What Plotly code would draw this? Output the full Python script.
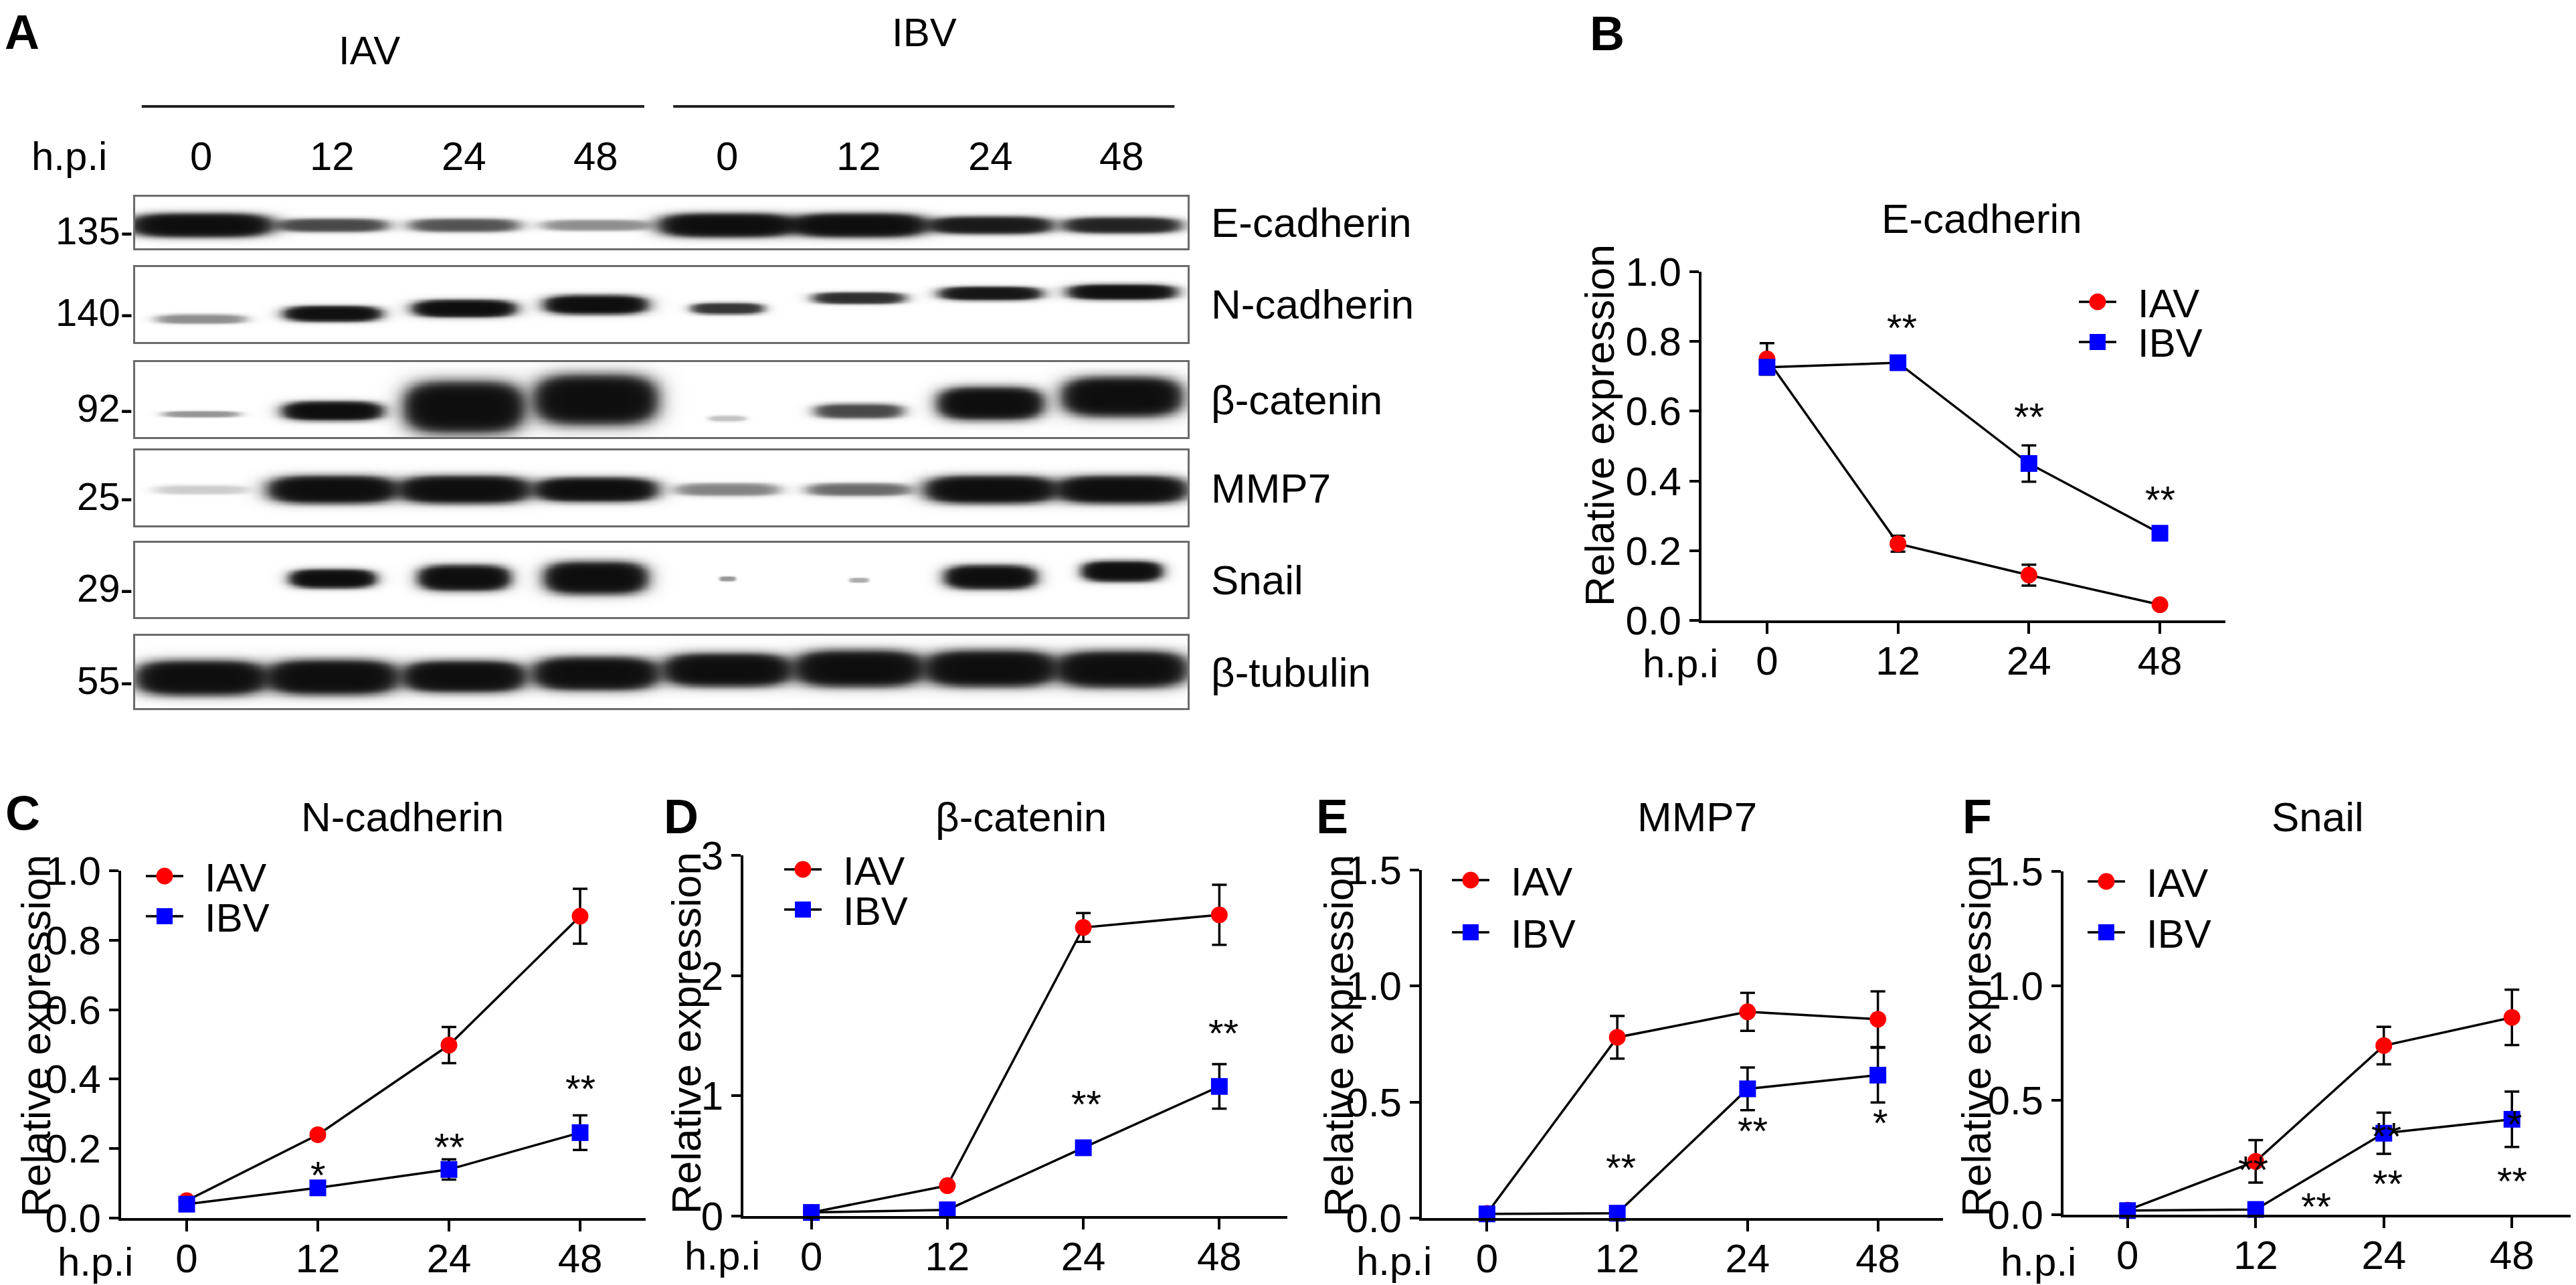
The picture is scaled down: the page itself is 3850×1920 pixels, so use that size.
"""
EMT markers after IAV / IBV infection: western blot (A) plus
densitometry line charts (B-F). Writes out.html.
"""

import numpy as np
import plotly.graph_objects as go

W, H = 3850, 1920
FONT = "Liberation Sans, Arial, Helvetica, sans-serif"

HPI = ["0", "12", "24", "48"]
LANE_LABELS = HPI + HPI
SERIES = ["IAV", "IBV"]

# ---- panel A: band darkness per lane (IAV 0/12/24/48, IBV 0/12/24/48), 0 = none, 1 = saturated
BLOT_PROTEINS = ["E-cadherin", "N-cadherin", "β-catenin", "MMP7", "Snail", "β-tubulin"]
BLOT_MW = ["135-", "140-", "92-", "25-", "29-", "55-"]
ECAD_BAND = [1.0, 0.45, 0.4, 0.22, 1.0, 1.0, 0.8, 0.7]
NCAD_BAND = [0.22, 0.95, 1.0, 1.0, 0.55, 0.6, 0.85, 0.95]
BCAT_BAND = [0.2, 1.0, 1.0, 1.0, 0.1, 0.45, 1.0, 1.0]
MMP7_BAND = [0.08, 1.0, 1.0, 1.0, 0.25, 0.32, 1.0, 1.0]
SNAIL_BAND = [0.0, 1.0, 1.0, 1.0, 0.2, 0.15, 1.0, 1.0]
BTUB_BAND = [1.0, 1.0, 1.0, 1.0, 1.0, 1.0, 1.0, 1.0]

# ---- panels B-F: relative expression (mean, SD)
ECAD_IAV = [0.75, 0.22, 0.13, 0.045]
ECAD_IAV_SD = [0.045, 0.023, 0.03, 0.006]
ECAD_IBV = [0.726, 0.739, 0.45, 0.25]
ECAD_IBV_SD = [0.02, 0.006, 0.052, 0.01]

NCAD_IAV = [0.05, 0.24, 0.498, 0.869]
NCAD_IAV_SD = [0.005, 0.008, 0.052, 0.079]
NCAD_IBV = [0.04, 0.087, 0.14, 0.246]
NCAD_IBV_SD = [0.004, 0.01, 0.029, 0.05]

BCAT_IAV = [0.03, 0.253, 2.40, 2.505]
BCAT_IAV_SD = [0.005, 0.02, 0.12, 0.25]
BCAT_IBV = [0.03, 0.052, 0.568, 1.078]
BCAT_IBV_SD = [0.005, 0.01, 0.02, 0.185]

MMP7_IAV = [0.02, 0.779, 0.889, 0.857]
MMP7_IAV_SD = [0.005, 0.092, 0.082, 0.12]
MMP7_IBV = [0.018, 0.021, 0.557, 0.616]
MMP7_IBV_SD = [0.004, 0.004, 0.092, 0.118]

SNAIL_IAV = [0.02, 0.233, 0.739, 0.862]
SNAIL_IAV_SD = [0.004, 0.093, 0.082, 0.121]
SNAIL_IBV = [0.018, 0.023, 0.356, 0.417]
SNAIL_IBV_SD = [0.004, 0.004, 0.09, 0.121]

# significance marks: (category position, y value, text)
ECAD_STARS = [(1.03, 0.862, "**"), (2.0, 0.607, "**"), (3.0, 0.37, "**")]
NCAD_STARS = [(1.0, 0.148, "*"), (2.0, 0.229, "**"), (3.0, 0.395, "**")]
BCAT_STARS = [(2.02, 1.0, "**"), (3.03, 1.59, "**")]
MMP7_STARS = [(1.03, 0.251, "**"), (2.04, 0.41, "**"), (3.02, 0.447, "*")]
SNAIL_STARS = [(0.98, 0.233, "**"), (1.47, 0.072, "**"), (2.02, 0.379, "**"),
               (2.03, 0.172, "**"), (3.02, 0.43, "*"), (3.0, 0.184, "**")]


def px(x):
    return x / W


def py(y):
    return 1 - y / H


def note(text, x, y, xref="paper", yref="paper", size=60, **kw):
    d = dict(text=text, x=x, y=y, xref=xref, yref=yref, showarrow=False,
             xanchor="center", yanchor="middle", font=dict(size=size))
    d.update(kw)
    return d


# band geometry inside each strip (centre as fraction of strip height from top,
# half thickness, half width in lanes)
BAND_GEOM = {
    "E-cadherin": dict(c=[0.55] * 8, h=[0.2, 0.12, 0.12, 0.1, 0.2, 0.2, 0.15, 0.14],
                       w=[0.5, 0.4, 0.4, 0.4, 0.48, 0.48, 0.44, 0.42]),
    "N-cadherin": dict(c=[0.69, 0.62, 0.55, 0.50, 0.55, 0.41, 0.35, 0.33],
                       h=[0.06, 0.09, 0.1, 0.11, 0.07, 0.07, 0.08, 0.09],
                       w=[0.33, 0.34, 0.36, 0.36, 0.26, 0.33, 0.36, 0.38]),
    "β-catenin": dict(c=[0.69, 0.65, 0.60, 0.50, 0.75, 0.65, 0.55, 0.46],
                      h=[0.04, 0.11, 0.3, 0.29, 0.04, 0.09, 0.19, 0.23],
                      w=[0.28, 0.35, 0.42, 0.43, 0.14, 0.32, 0.37, 0.42]),
    "MMP7": dict(c=[0.52] * 8, h=[0.06, 0.16, 0.16, 0.14, 0.08, 0.08, 0.16, 0.16],
                 w=[0.35, 0.45, 0.46, 0.43, 0.38, 0.38, 0.46, 0.46]),
    "Snail": dict(c=[0.48, 0.48, 0.47, 0.47, 0.48, 0.5, 0.46, 0.38],
                  h=[0.05, 0.11, 0.15, 0.19, 0.03, 0.03, 0.14, 0.12],
                  w=[0.3, 0.3, 0.32, 0.36, 0.06, 0.07, 0.32, 0.28]),
    "β-tubulin": dict(c=[0.58, 0.57, 0.56, 0.52, 0.47, 0.45, 0.45, 0.46],
                      h=[0.21, 0.21, 0.19, 0.2, 0.2, 0.22, 0.22, 0.22],
                      w=[0.46, 0.46, 0.43, 0.44, 0.45, 0.45, 0.46, 0.46]),
}

# strip boxes in pixels (top, bottom)
STRIP_BOX = [(286, 363), (391, 503), (533, 645), (665, 777), (803, 914), (942, 1050)]
BLOT_X0, BLOT_X1 = 194, 1767


def blot_strip(levels, geom):
    xs = np.linspace(-0.5, 7.5, 481)
    ys = np.linspace(0, 1, 101)
    X, Y = np.meshgrid(xs, ys)
    dens = np.zeros_like(X)
    for lane, lev in enumerate(levels):
        if lev <= 0:
            continue
        # rounded band: super-ellipse with soft edge
        dx = np.abs(X - lane) / geom["w"][lane]
        dy = np.abs(Y - geom["c"][lane]) / geom["h"][lane]
        r = (dx ** 4 + dy ** 2.5) ** 0.3
        dens += lev * 1 / (1 + np.exp((r - 1) / 0.12))
    return xs, ys, 1 - np.exp(-3.0 * dens)


fig = go.Figure()
annotations = []
shapes = []

blot_levels = [ECAD_BAND, NCAD_BAND, BCAT_BAND, MMP7_BAND, SNAIL_BAND, BTUB_BAND]
for i, (prot, lev) in enumerate(zip(BLOT_PROTEINS, blot_levels)):
    n = i + 1
    sfx = str(n) if n > 1 else ""
    xs, ys, z = blot_strip(lev, BAND_GEOM[prot])
    fig.add_trace(go.Heatmap(
        x=xs, y=ys, z=z, zmin=0, zmax=1, zsmooth="best",
        colorscale=[[0, "#ffffff"], [0.5, "#8a8a8a"], [1, "#000000"]],
        showscale=False, hoverinfo="skip", xaxis="x" + sfx, yaxis="y" + sfx,
    ))
    top, bot = STRIP_BOX[i]
    box_axis = dict(showline=True, mirror=True, linecolor="#6b6b6b", linewidth=3,
                    showticklabels=False, ticks="", showgrid=False, zeroline=False,
                    automargin=False)
    fig.update_layout(**{
        "xaxis" + sfx: dict(box_axis, domain=[px(BLOT_X0), px(BLOT_X1)],
                            range=[-0.5, 7.5], anchor="y" + sfx),
        "yaxis" + sfx: dict(box_axis, domain=[py(bot), py(top)],
                            range=[1, 0], anchor="x" + sfx),
    })
    annotations.append(note(BLOT_MW[i], px(193), py((top + bot) / 2 + 12), size=58,
                            xanchor="right"))
    annotations.append(note(prot, px(1800), py((top + bot) / 2), size=62,
                            xanchor="left"))

# lane labels and group bars for the blot
for lane, lab in enumerate(LANE_LABELS):
    annotations.append(note(lab, lane, py(226), xref="x"))
annotations.append(note("h.p.i", px(95), py(226)))
annotations.append(note("IAV", 1.28, py(68), xref="x"))
annotations.append(note("IBV", 5.5, py(40), xref="x"))
for x0, x1 in [(-0.45, 3.37), (3.59, 7.4)]:
    shapes.append(dict(type="line", xref="x", yref="paper", x0=x0, x1=x1,
                       y0=py(151), y1=py(151), line=dict(color="#222", width=4)))
annotations.append(note("<b>A</b>", px(25), py(40), size=72))

# ---- line charts
PANELS = [
    dict(letter="B", title="E-cadherin", iav=ECAD_IAV, iav_sd=ECAD_IAV_SD, ibv=ECAD_IBV,
         ibv_sd=ECAD_IBV_SD, stars=ECAD_STARS, ymax=1.0, step=0.2, fmt="{:.1f}",
         box=(2535, 3318, 919, 398), letter_xy=(2394, 42), title_xy=(2954, 318),
         ytitle_xy=(2382, 628), hpi_xy=(2503, 983), leg_xy=(3127, 443), leg_gap=60),
    dict(letter="C", title="N-cadherin", iav=NCAD_IAV, iav_sd=NCAD_IAV_SD, ibv=NCAD_IBV,
         ibv_sd=NCAD_IBV_SD, stars=NCAD_STARS, ymax=1.0, step=0.2, fmt="{:.1f}",
         box=(173, 957, 1812, 1293), letter_xy=(26, 1207), title_xy=(593, 1212),
         ytitle_xy=(45, 1540), hpi_xy=(134, 1877), leg_xy=(238, 1301), leg_gap=60),
    dict(letter="D", title="β-catenin", iav=BCAT_IAV, iav_sd=BCAT_IAV_SD, ibv=BCAT_IBV,
         ibv_sd=BCAT_IBV_SD, stars=BCAT_STARS, ymax=3, step=1, fmt="{:.0f}",
         box=(1103, 1916, 1809, 1270), letter_xy=(1010, 1212), title_xy=(1518, 1212),
         ytitle_xy=(1017, 1536), hpi_xy=(1071, 1868), leg_xy=(1192, 1291), leg_gap=60),
    dict(letter="E", title="MMP7", iav=MMP7_IAV, iav_sd=MMP7_IAV_SD, ibv=MMP7_IBV,
         ibv_sd=MMP7_IBV_SD, stars=MMP7_STARS, ymax=1.5, step=0.5, fmt="{:.1f}",
         box=(2117, 2896, 1812, 1292), letter_xy=(1983, 1212), title_xy=(2528, 1212),
         ytitle_xy=(1992, 1540), hpi_xy=(2075, 1876), leg_xy=(2190, 1307), leg_gap=78),
    dict(letter="F", title="Snail", iav=SNAIL_IAV, iav_sd=SNAIL_IAV_SD, ibv=SNAIL_IBV,
         ibv_sd=SNAIL_IBV_SD, stars=SNAIL_STARS, ymax=1.5, step=0.5, fmt="{:.1f}",
         box=(3076, 3842, 1807, 1294), letter_xy=(2947, 1212), title_xy=(3456, 1212),
         ytitle_xy=(2945, 1540), hpi_xy=(3038, 1877), leg_xy=(3140, 1309), leg_gap=76),
]
STYLE = {"IAV": dict(color="#ff0000", symbol="circle"),
         "IBV": dict(color="#0000ff", symbol="square")}

for k, p in enumerate(PANELS):
    n = 7 + k
    xa, ya = f"x{n}", f"y{n}"
    for name, vals, sd in [("IAV", p["iav"], p["iav_sd"]), ("IBV", p["ibv"], p["ibv_sd"])]:
        fig.add_trace(go.Scatter(
            x=list(range(len(HPI))), y=vals, name=name, mode="lines+markers",
            xaxis=xa, yaxis=ya, cliponaxis=False, showlegend=False,
            line=dict(color="black", width=3.5),
            marker=dict(color=STYLE[name]["color"], symbol=STYLE[name]["symbol"], size=25),
            error_y=dict(type="data", array=sd, visible=True, color="black",
                         thickness=3.5, width=11),
        ))
    left, right, bottom, top = p["box"]
    ticks = np.arange(0, p["ymax"] + 1e-9, p["step"])
    fig.update_layout(**{
        f"xaxis{n}": dict(domain=[px(left), px(right)], anchor=ya, range=[-0.5, 3.5],
                          tickvals=list(range(len(HPI))), ticktext=HPI,
                          showline=True, linecolor="black", linewidth=4,
                          ticks="outside", ticklen=16, tickwidth=4, tickcolor="black",
                          ticklabelstandoff=-11, automargin=False,
                          showgrid=False, zeroline=False, tickfont=dict(size=60)),
        f"yaxis{n}": dict(domain=[py(bottom), py(top)], anchor=xa, range=[0, p["ymax"]],
                          tickvals=list(ticks), ticktext=[p["fmt"].format(t) for t in ticks],
                          showline=True, linecolor="black", linewidth=4,
                          ticks="outside", ticklen=14, tickwidth=4, tickcolor="black",
                          automargin=False,
                          showgrid=False, zeroline=False, tickfont=dict(size=60)),
    })
    annotations.append(note(f"<b>{p['letter']}</b>", px(p["letter_xy"][0]),
                            py(p["letter_xy"][1]), size=72))
    annotations.append(note(p["title"], px(p["title_xy"][0]), py(p["title_xy"][1]), size=62))
    annotations.append(note("Relative expression", px(p["ytitle_xy"][0]),
                            py(p["ytitle_xy"][1]), size=62, textangle=-90))
    annotations.append(note("h.p.i", px(p["hpi_xy"][0]), py(p["hpi_xy"][1]), size=60))
    for sx, sy, st in p["stars"]:
        annotations.append(note(st, sx, sy, xref=xa, yref=ya, size=58, yshift=-12))

    # legend keys: line with marker, series name to the right
    mx, my = p["leg_xy"]
    for j, name in enumerate(SERIES):
        yy = my + j * p["leg_gap"]
        shapes.append(dict(type="line", xref="paper", yref="paper",
                           x0=px(mx - 28), x1=px(mx + 28), y0=py(yy), y1=py(yy),
                           line=dict(color="black", width=3.5)))
        r = 12.5 if STYLE[name]["symbol"] == "circle" else 12
        shapes.append(dict(type="circle" if STYLE[name]["symbol"] == "circle" else "rect",
                           xref="paper", yref="paper",
                           x0=px(mx - r), x1=px(mx + r), y0=py(yy + r), y1=py(yy - r),
                           fillcolor=STYLE[name]["color"], line=dict(width=0)))
        annotations.append(note(name, px(mx + 58), py(yy + 2), size=60, xanchor="left"))

fig.update_layout(
    template="none",
    width=W, height=H, autosize=False,
    margin=dict(l=0, r=0, t=0, b=0, pad=0, autoexpand=False),
    paper_bgcolor="white", plot_bgcolor="white",
    font=dict(family=FONT, color="black"),
    annotations=annotations,
    shapes=shapes,
    showlegend=False,
)

fig.write_html("out.html")
